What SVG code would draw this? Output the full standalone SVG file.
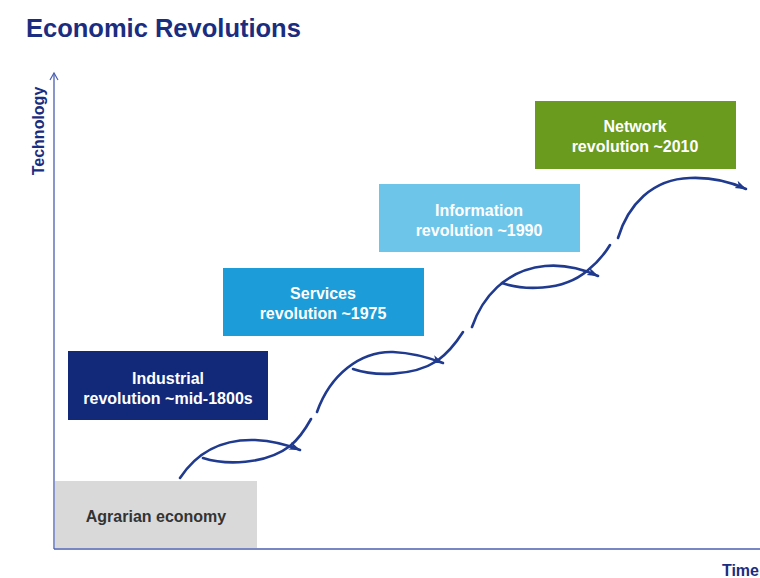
<svg xmlns="http://www.w3.org/2000/svg" width="760" height="578" viewBox="0 0 760 578">
<style>
.lbl{font-family:"Liberation Sans",Arial,sans-serif;font-weight:bold;font-size:16px;text-anchor:middle;fill:#ffffff}
.curve{fill:none;stroke:#1f3a8e;stroke-width:2.6;stroke-linecap:round}
.axis{fill:none;stroke:#4b5fb0;stroke-width:1.3}
</style>
<defs>
<marker id="arr" markerUnits="userSpaceOnUse" markerWidth="14" markerHeight="10" refX="11" refY="4.5" orient="auto" viewBox="0 0 14 10">
<path d="M0,0.5 L11.5,4.5 L0,8.5 L3,4.5 z" fill="#1f3a8e"/>
</marker>
<marker id="axarr" markerUnits="userSpaceOnUse" markerWidth="12" markerHeight="12" refX="8" refY="5" orient="auto" viewBox="0 0 12 12">
<path d="M1,1 L8,5 L1,9" fill="none" stroke="#4b5fb0" stroke-width="1.2"/>
</marker>
</defs>
<rect width="760" height="578" fill="#ffffff"/>
<text x="26" y="37" font-family="Liberation Sans,Arial,sans-serif" font-weight="bold" font-size="25.5" fill="#1a2d80">Economic Revolutions</text>
<g id="axes">
<line class="axis" x1="54" y1="549" x2="54" y2="73" marker-end="url(#axarr)"/>
<line class="axis" x1="54" y1="549" x2="760" y2="549"/>
<text x="0" y="0" transform="translate(44,131) rotate(-90)" class="lbl" style="fill:#1a2d80">Technology</text>
<text x="759" y="576" class="lbl" style="fill:#1a2d80;text-anchor:end">Time</text>
</g>
<g id="connectors">
<path class="curve" d="M180,478 C197,452 222,439 255,440 C274,441 288,445 300,450" marker-end="url(#arr)"/>
<path class="curve" d="M203,458 C225,465 265,465 290,446 C300,438 306,428 311,419"/>
<path class="curve" d="M317,412 C330,375 360,351 393,352 C414,353 430,358 443,363" marker-end="url(#arr)"/>
<path class="curve" d="M353,369 C373,376 412,377 437,361 C448,353 456,343 463,332"/>
<path class="curve" d="M472,327 C482,298 505,270 545,266 C567,264 585,270 598,276" marker-end="url(#arr)"/>
<path class="curve" d="M502,283 C522,290 562,292 587,271 C597,263 604,255 610,245"/>
<path class="curve" d="M618,238 C628,205 652,179 690,178 C714,177 733,183 746,189" marker-end="url(#arr)"/>
</g>
<g id="agrarian">
<rect x="55" y="481" width="202" height="67" fill="#d9d9d9"/>
<text x="156" y="522" class="lbl" style="fill:#333333">Agrarian economy</text>
</g>
<g id="industrial">
<rect x="68" y="351" width="200" height="69" fill="#12297a"/>
<text x="168" y="384" class="lbl">Industrial</text>
<text x="168" y="404" class="lbl">revolution ~mid-1800s</text>
</g>
<g id="services">
<rect x="223" y="268" width="201" height="68" fill="#1c9cd8"/>
<text x="323" y="299" class="lbl">Services</text>
<text x="323" y="319" class="lbl">revolution ~1975</text>
</g>
<g id="information">
<rect x="379" y="184" width="201" height="68" fill="#6ec5ea"/>
<text x="479" y="216" class="lbl">Information</text>
<text x="479" y="236" class="lbl">revolution ~1990</text>
</g>
<g id="network">
<rect x="535" y="101" width="201" height="68" fill="#6a9a1e"/>
<text x="635" y="132" class="lbl">Network</text>
<text x="635" y="152" class="lbl">revolution ~2010</text>
</g>
</svg>
